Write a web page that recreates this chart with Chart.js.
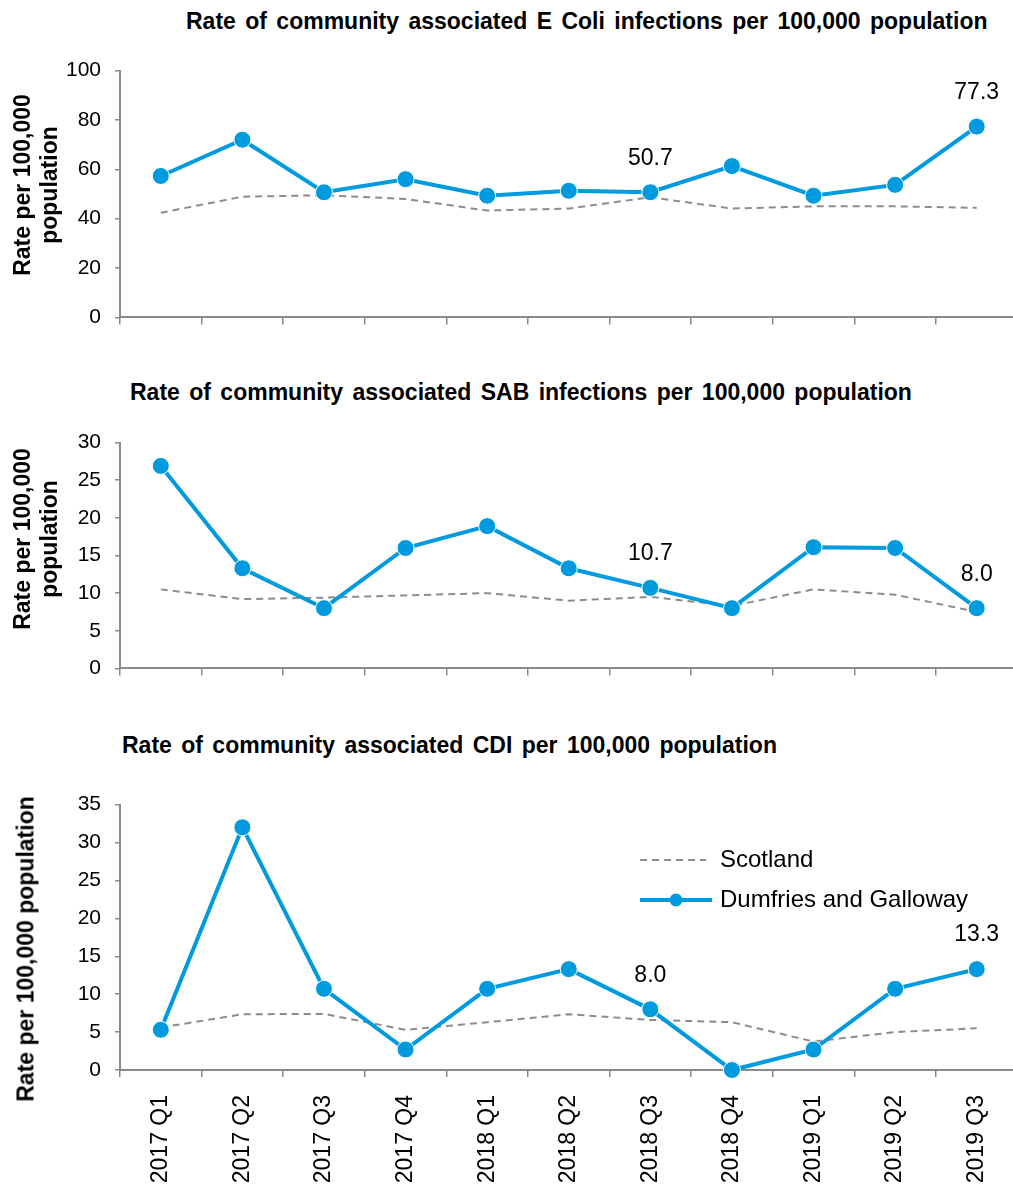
<!DOCTYPE html>
<html>
<head>
<meta charset="utf-8">
<script src="https://cdn.jsdelivr.net/npm/chart.js@4.4.1/dist/chart.umd.min.js"></script>
<style>
    body { margin: 0; background: #fff; width: 1013px; height: 1184px; overflow: hidden; position: relative; font-family: 'Liberation Sans', Arial, sans-serif; }
    canvas { position: absolute; left: 0; }
    .title { position: absolute; font-weight: bold; font-size: 23px; line-height: 23px; white-space: nowrap; word-spacing: 3px; color: #000; z-index: 1; }
    .ytitle { position: absolute; font-weight: bold; font-size: 23px; line-height: 27px; white-space: nowrap; text-align: center; color: #000; z-index: 1;
              transform: translate(-50%, -50%) rotate(-90deg); }
</style>
</head>
<body>
<canvas id="ecoli" width="1027" height="300" style="top:44px"></canvas>
<canvas id="sab" width="1027" height="279" style="top:416px"></canvas>
<canvas id="cdi" width="1027" height="406" style="top:778px"></canvas>

<div class="title" style="left:186px; top:10px;">Rate of community associated E Coli infections per 100,000 population</div>
<div class="title" style="left:130px; top:381px;">Rate of community associated SAB infections per 100,000 population</div>
<div class="title" style="left:122px; top:734px;">Rate of community associated CDI per 100,000 population</div>

<div class="ytitle" style="left:36px; top:185px;">Rate per 100,000<br>population</div>
<div class="ytitle" style="left:36px; top:539px;">Rate per 100,000<br>population</div>
<div class="ytitle" style="left:26px; top:949px;">Rate per 100,000 population</div>

<script>
// quarters on the x axis
const quarters = ['2017 Q1', '2017 Q2', '2017 Q3', '2017 Q4', '2018 Q1', '2018 Q2',
                  '2018 Q3', '2018 Q4', '2019 Q1', '2019 Q2', '2019 Q3'];

// E Coli rates
const ecoliDG = [57.3, 72.0, 50.7, 56.0, 49.3, 51.3, 50.7, 61.3, 49.3, 53.7, 77.3];
const ecoliScot = [42.4, 48.9, 49.5, 48.0, 43.3, 44.1, 48.7, 44.1, 45.0, 45.0, 44.4];

// SAB rates
const sabDG = [26.9, 13.3, 8.0, 16.0, 18.9, 13.3, 10.7, 8.0, 16.1, 16.0, 8.0];
const sabScot = [10.5, 9.2, 9.4, 9.7, 10.0, 9.0, 9.5, 8.3, 10.5, 9.8, 7.5];

// CDI rates
const cdiDG = [5.3, 32.0, 10.7, 2.7, 10.7, 13.3, 8.0, 0, 2.7, 10.7, 13.3];
const cdiScot = [5.6, 7.35, 7.4, 5.3, 6.3, 7.35, 6.6, 6.3, 3.75, 5.0, 5.5];

// which points get a value label
const labelled = [6, 10];

var blue = '#009ADE';
var grey = '#8C8C8C';
var axisGrey = '#8A8A8A';
var font = "'Liberation Sans', Arial, sans-serif";

// value labels above selected Dumfries points
const valueLabels = {
    id: 'valueLabels',
    afterDatasetsDraw(chart) {
        const ctx = chart.ctx;
        const meta = chart.getDatasetMeta(0);
        const values = chart.data.datasets[0].data;
        ctx.save();
        ctx.font = '23px ' + font;
        ctx.fillStyle = '#000';
        ctx.textAlign = 'center';
        ctx.textBaseline = 'middle';
        labelled.forEach(i => {
            const pt = meta.data[i];
            ctx.fillText(values[i].toFixed(1), pt.x, pt.y - 34);
        });
        ctx.restore();
    }
};

// legend sitting inside the CDI plot (canvas starts at 778)
const innerLegend = {
    id: 'innerLegend',
    afterDraw(chart) {
        const ctx = chart.ctx;
        ctx.save();
        // Scotland
        ctx.strokeStyle = grey;
        ctx.lineWidth = 2;
        ctx.setLineDash([7, 5]);
        ctx.beginPath();
        ctx.moveTo(640, 82);
        ctx.lineTo(706, 82);
        ctx.stroke();
        ctx.setLineDash([]);
        // Dumfries and Galloway
        ctx.strokeStyle = blue;
        ctx.lineWidth = 4;
        ctx.beginPath();
        ctx.moveTo(640, 122);
        ctx.lineTo(712, 122);
        ctx.stroke();
        ctx.fillStyle = blue;
        ctx.beginPath();
        ctx.arc(676, 122, 6.5, 0, Math.PI * 2);
        ctx.fill();
        ctx.fillStyle = '#000';
        ctx.font = '24px ' + font;
        ctx.textAlign = 'left';
        ctx.textBaseline = 'middle';
        ctx.fillText(chart.data.datasets[1].label, 720, 82);
        ctx.fillText(chart.data.datasets[0].label, 720, 122);
        ctx.restore();
    }
};

function makeChart(id, dg, scot, max, step, xHeight, showX) {
    const ctx = document.getElementById(id).getContext('2d');
    return new Chart(ctx, {
        type: 'line',
        data: {
            labels: quarters,
            datasets: [
                {
                    label: 'Dumfries and Galloway',
                    data: dg,
                    borderColor: blue,
                    borderWidth: 4,
                    pointRadius: 8.5,
                    pointBackgroundColor: blue,
                    pointBorderColor: '#fff',
                    pointBorderWidth: 1,
                    tension: 0,
                    clip: false,
                },
                {
                    label: 'Scotland',
                    data: scot,
                    borderColor: grey,
                    borderWidth: 2,
                    borderDash: [7, 5],
                    pointRadius: 0,
                    tension: 0,
                    clip: false,
                },
            ],
        },
        options: {
            responsive: false,
            animation: false,
            layout: { padding: 0 },
            plugins: {
                legend: { display: false },
                tooltip: { enabled: false },
            },
            scales: {
                x: {
                    offset: true,
                    grid: { offset: true, drawOnChartArea: false, tickLength: 7, color: axisGrey, lineWidth: 1.5 },
                    border: { color: axisGrey, width: 2 },
                    ticks: {
                        display: showX,
                        minRotation: 90,
                        maxRotation: 90,
                        padding: 18,
                        color: '#000',
                        font: { size: 23, family: font },
                    },
                    afterFit: function (scale) { scale.height = xHeight; },
                },
                y: {
                    min: 0,
                    max: max,
                    grid: { drawOnChartArea: false, tickLength: 5, color: axisGrey, lineWidth: 1.5 },
                    border: { color: axisGrey, width: 2 },
                    ticks: {
                        stepSize: step,
                        padding: 14,
                        color: '#000',
                        font: { size: 21, family: font },
                    },
                    afterFit: function (scale) { scale.width = 120; },
                },
            },
        },
        plugins: showX ? [valueLabels, innerLegend] : [valueLabels],
    });
}

makeChart('ecoli', ecoliDG, ecoliScot, 100, 20, 20, false);
makeChart('sab', sabDG, sabScot, 30, 5, 20, false);
makeChart('cdi', cdiDG, cdiScot, 35, 5, 114, true);
</script>
</body>
</html>
